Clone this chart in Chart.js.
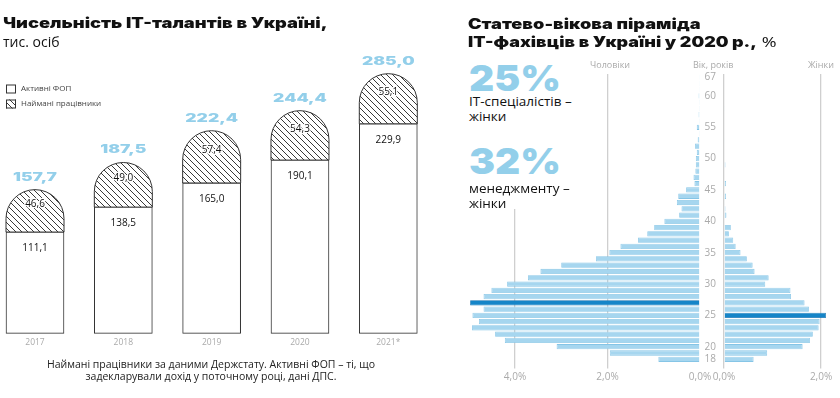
<!DOCTYPE html>
<html lang="uk">
<head>
<meta charset="utf-8">
<script src="https://cdn.jsdelivr.net/npm/chart.js@4/dist/chart.umd.min.js"></script>
<style>
  body { margin: 0; background: #fff; }
  #wrap { position: relative; width: 840px; height: 398px; overflow: hidden; font-family: "Open Sans", sans-serif; color: #111; }
  canvas { position: absolute; top: 0; }
  .t { position: absolute; white-space: nowrap; }
  .head { font-family: Inter, sans-serif; font-weight: 900; font-size: 14.5px; line-height: 18px; transform-origin: 0 50%; }
  .sub { font-size: 14px; line-height: 18px; }
  .note { font-size: 10.5px; line-height: 12.4px; color: #222; }
  .axis { font-size: 9px; line-height: 12px; color: #aaa; }
  .big { font-family: Inter, sans-serif; font-weight: 900; font-size: 36px; line-height: 36px; color: #93cfea; transform-origin: 0 50%; }
  .txt { font-size: 13.5px; line-height: 15px; }
  #facts { position: absolute; left: 466px; top: 56px; width: 112px; height: 153px; background: #fff; z-index: 2; }
</style>
</head>
<body>
<div id="wrap">
  <canvas id="talents" width="430" height="398" style="left:0"></canvas>
  <canvas id="men" width="260" height="398" style="left:460px"></canvas>
  <canvas id="women" width="140" height="398" style="left:700px"></canvas>

  <div class="t head" id="h1" style="left:3px; top:14px">Чисельність IT-талантів в Україні,</div>
  <div class="t sub" style="left:3px; top:33px">тис. осіб</div>
  <div class="t note" style="left:0; width:422px; text-align:center; top:358px">Наймані працівники за даними Держстату. Активні ФОП – ті, що<br>задекларували дохід у поточному році, дані ДПС.</div>

  <div class="t head" id="h2" style="left:468px; top:15px">Статево-вікова піраміда</div>
  <div class="t head" id="h3" style="left:468px; top:33px">IT-фахівців в Україні у 2020 р.,<span style="font-family:'Open Sans'; font-weight:normal"> %</span></div>
  <div id="facts">
    <div class="t big" id="b1" style="left:3px; top:4px">25%</div>
    <div class="t txt" style="left:3px; top:38px">IT-спеціалістів –<br>жінки</div>
    <div class="t big" id="b2" style="left:3px; top:87px">32%</div>
    <div class="t txt" style="left:3px; top:125px">менеджменту –<br>жінки</div>
  </div>
  <div class="t axis" style="left:590px; top:59px">Чоловіки</div>
  <div class="t axis" style="left:693px; top:59px">Вік, років</div>
  <div class="t axis" style="left:808px; top:59px">Жінки</div>
</div>

<script>
// кількість IT-фахівців, тис. осіб
var years = ['2017', '2018', '2019', '2020', '2021*'];
var fop = [111.1, 138.5, 165.0, 190.1, 229.9];
var hired = [46.6, 49.0, 57.4, 54.3, 55.1];

// піраміда, % від усіх IT-фахівців
var ages = [18, 19, 20, 21, 22, 23, 24, 25, 26, 27, 28, 29, 30, 31, 32, 33, 34, 35, 36, 37,
  38, 39, 40, 41, 42, 43, 44, 45, 46, 47, 48, 49, 50, 51, 52, 53, 54, 55, 56, 57,
  58, 59, 60, 61, 64, 67];
var men = [0.90, 1.95, 3.10, 4.22, 4.43, 4.93, 4.78, 4.92, 4.68, 4.97, 4.68, 4.51, 4.17, 3.72, 3.45, 3.00, 2.25, 1.96, 1.72, 1.34,
  1.14, 0.99, 0.77, 0.45, 0.40, 0.50, 0.47, 0.30, 0.12, 0.14, 0.10, 0.09, 0.09, 0.07, 0.11, 0.05, 0.02, 0.07, 0.02, 0.03,
  0.02, 0.02, 0.03, 0.01, 0.01, 0.01];
var women = [0.61, 0.89, 1.62, 1.77, 1.83, 1.95, 1.97, 2.10, 1.75, 1.66, 1.38, 1.37, 0.85, 0.92, 0.63, 0.59, 0.47, 0.34, 0.24, 0.19,
  0.10, 0.14, 0, 0.05, 0.03, 0.01, 0.04, 0, 0.04, 0, 0, 0.03, 0, 0, 0, 0.01, 0, 0, 0, 0,
  0.01, 0, 0, 0, 0, 0];
var ageTicks = [18, 20, 25, 30, 35, 40, 45, 50, 55, 60, 67];

var blue = '#93cfea';
var light = '#a6d6ef', lightEdge = '#86c5e6';
var dark = '#1585c8', darkEdge = '#0f6fae';

function fmt(v) { return v.toFixed(1).replace('.', ','); }
function pct(v) { return fmt(v) + '%'; }

// розтягнути широкий шрифт заголовків до потрібної ширини
function fit(id, w) {
  var el = document.getElementById(id);
  el.style.transform = 'scaleX(' + (w / el.offsetWidth) + ')';
}
fit('h1', 324);
fit('h2', 232);
fit('h3', 309);
fit('b1', 92);
fit('b2', 92);

// штриховка
var tile = document.createElement('canvas');
tile.width = 6; tile.height = 6;
var tc = tile.getContext('2d');
tc.strokeStyle = '#222';
tc.lineWidth = 0.9;
tc.beginPath();
tc.moveTo(0, 0); tc.lineTo(6, 6);
tc.moveTo(-1, 5); tc.lineTo(1, 7);
tc.moveTo(5, -1); tc.lineTo(7, 1);
tc.stroke();
var hatch = document.getElementById('talents').getContext('2d').createPattern(tile, 'repeat');

// верхня частина стовпця з півколом
var capBars = {
  id: 'capBars',
  beforeDatasetDraw: function (chart, args) {
    if (args.index !== 1) return;
    var ctx = chart.ctx;
    var ds = chart.data.datasets[1];
    args.meta.data.forEach(function (bar) {
      var p = bar.getProps(['x', 'y', 'base', 'width'], true);
      var r = p.width / 2;
      ctx.save();
      ctx.beginPath();
      ctx.moveTo(p.x - r, p.base);
      ctx.lineTo(p.x - r, p.y + r);
      ctx.arc(p.x, p.y + r, r, Math.PI, 0);
      ctx.lineTo(p.x + r, p.base);
      ctx.closePath();
      ctx.fillStyle = ds.backgroundColor;
      ctx.fill();
      ctx.strokeStyle = ds.borderColor;
      ctx.lineWidth = 1;
      ctx.stroke();
      ctx.restore();
    });
    return false;
  }
};

var barLabels = {
  id: 'barLabels',
  afterDatasetsDraw: function (chart) {
    var ctx = chart.ctx;
    var low = chart.getDatasetMeta(0).data;
    var top = chart.getDatasetMeta(1).data;
    ctx.save();
    ctx.textAlign = 'center';
    ctx.textBaseline = 'middle';
    ctx.font = '900 11.5px Inter';
    var stretch = 44 / ctx.measureText('157,7').width;
    low.forEach(function (bar, i) {
      ctx.font = '10px "Open Sans"';
      ctx.fillStyle = '#111';
      ctx.fillText(fmt(fop[i]), bar.x, bar.y + 16);
      var cap = top[i];
      var cy = (cap.y + cap.base) / 2 - 6.5;
      ctx.lineWidth = 2.5;
      ctx.strokeStyle = '#fff';
      ctx.strokeText(fmt(hired[i]), cap.x, cy);
      ctx.fillText(fmt(hired[i]), cap.x, cy);
      ctx.save();
      ctx.translate(cap.x, cap.y - 12.5);
      ctx.scale(stretch, 1);
      ctx.font = '900 11.5px Inter';
      ctx.fillStyle = blue;
      ctx.fillText(fmt(fop[i] + hired[i]), 0, 0);
      ctx.restore();
    });
    ctx.restore();
  }
};

var legendBoxes = {
  id: 'legendBoxes',
  afterDraw: function (chart) {
    var ctx = chart.ctx;
    ctx.save();
    chart.data.datasets.forEach(function (ds, i) {
      var y = 84.5 + i * 15;
      ctx.fillStyle = ds.backgroundColor;
      ctx.fillRect(6, y, 10, 9);
      ctx.strokeStyle = '#333';
      ctx.lineWidth = 1;
      ctx.strokeRect(6.5, y + 0.5, 9, 8);
      ctx.fillStyle = '#444';
      ctx.font = '8px "Open Sans"';
      ctx.textBaseline = 'middle';
      ctx.fillText(ds.label, 21, y + 4.5);
    });
    ctx.restore();
  }
};

new Chart(document.getElementById('talents'), {
  type: 'bar',
  data: {
    labels: years,
    datasets: [
      { label: 'Активні ФОП', data: fop, backgroundColor: '#fff', borderColor: '#333', borderWidth: 1, borderSkipped: false, clip: false },
      { label: 'Наймані працівники', data: hired, backgroundColor: hatch, borderColor: '#333', borderWidth: 1, clip: false }
    ]
  },
  options: {
    responsive: false,
    animation: false,
    layout: { padding: { left: 35, right: 41.7, top: 60, bottom: 0 } },
    datasets: { bar: { barThickness: 58 } },
    scales: {
      x: {
        stacked: true, offset: false,
        grid: { display: false, drawTicks: false },
        border: { display: false },
        ticks: { color: '#aaa', font: { size: 8.5, family: 'Open Sans' }, padding: 4 },
        afterFit: function (s) { s.height = 64.7; }
      },
      y: { stacked: true, display: false, min: 0, max: 300 }
    },
    plugins: { legend: { display: false }, tooltip: { enabled: false } }
  },
  plugins: [capBars, barLabels, legendBoxes]
});

function barColors(list, edge) {
  var max = Math.max.apply(null, list);
  return list.map(function (v) {
    if (edge) return v === max ? darkEdge : lightEdge;
    return v === max ? dark : light;
  });
}

var tickFont = { size: 10, family: 'Open Sans' };

new Chart(document.getElementById('men'), {
  type: 'bar',
  data: {
    labels: ages,
    datasets: [{ label: 'Чоловіки', data: men, backgroundColor: barColors(men), borderColor: barColors(men, true), borderWidth: 0.8 }]
  },
  options: {
    indexAxis: 'y',
    responsive: false,
    animation: false,
    layout: { padding: { left: 8.75, right: 20, top: 74, bottom: 0 } },
    datasets: { bar: { categoryPercentage: 1, barPercentage: 0.84 } },
    scales: {
      x: {
        reverse: true, min: 0, max: 5,
        ticks: { stepSize: 2, includeBounds: false, callback: pct, color: '#aaa', font: tickFont, padding: 3 },
        grid: { color: function (c) { return c.tick && c.tick.value === 0 ? 'rgba(0,0,0,0)' : '#cfcfcf'; }, lineWidth: 1.3, tickLength: 6 },
        border: { display: false },
        afterFit: function (s) { s.height = 35.6; }
      },
      y: { reverse: true, display: false }
    },
    plugins: { legend: { display: false }, tooltip: { enabled: false } }
  }
});

new Chart(document.getElementById('women'), {
  type: 'bar',
  data: {
    labels: ages,
    datasets: [{ label: 'Жінки', data: women, backgroundColor: barColors(women), borderColor: barColors(women, true), borderWidth: 0.8 }]
  },
  options: {
    indexAxis: 'y',
    responsive: false,
    animation: false,
    layout: { padding: { left: 0, right: 4.4, top: 74, bottom: 0 } },
    datasets: { bar: { categoryPercentage: 1, barPercentage: 0.84 } },
    scales: {
      x: {
        min: 0, max: 2.3,
        ticks: { stepSize: 2, includeBounds: false, callback: pct, color: '#aaa', font: tickFont, padding: 3 },
        grid: { color: '#cfcfcf', lineWidth: 1.3, tickLength: 6 },
        border: { display: false },
        afterFit: function (s) { s.height = 35.6; }
      },
      y: {
        reverse: true, position: 'left',
        grid: { display: false, drawTicks: false },
        border: { display: false },
        ticks: {
          autoSkip: false, color: '#aaa', font: tickFont, padding: 8,
          callback: function (v, i) { return ageTicks.indexOf(ages[i]) >= 0 ? String(ages[i]) : ''; }
        },
        afterFit: function (s) { s.width = 24; }
      }
    },
    plugins: { legend: { display: false }, tooltip: { enabled: false } }
  }
});
</script>
</body>
</html>
